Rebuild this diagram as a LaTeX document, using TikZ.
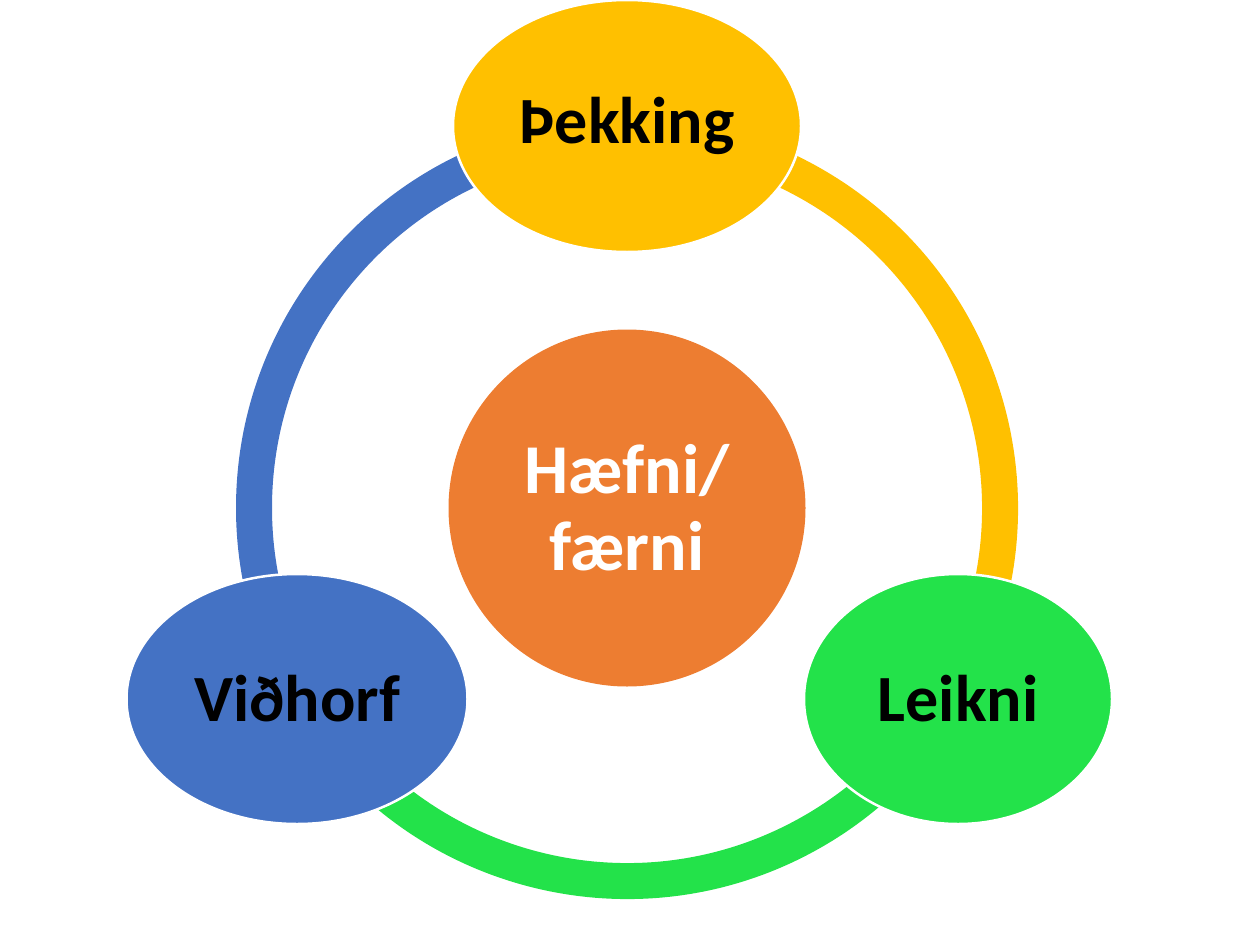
\documentclass[tikz,border=0pt]{standalone}
\usepackage{fontspec}
\setmainfont{Carlito}
\usetikzlibrary{shapes.geometric}
\definecolor{cyellow}{HTML}{FFC000}
\definecolor{corange}{HTML}{ED7D31}
\definecolor{cblue}{HTML}{4472C4}
\definecolor{cgreen}{HTML}{23E24A}
\tikzset{
  ringarc/.style={line width=36pt},
  bubble/.style={ellipse, draw=white, line width=2.5pt, inner sep=0pt, font=\bfseries\fontsize{66}{72}\selectfont, text=black},
}
\begin{document}
\begin{tikzpicture}[x=1pt,y=-1pt]
\useasboundingbox (0,0) rectangle (1239,950);
\coordinate (c) at (627,508);
% ring
\draw[ringarc, cblue] (c) ++(-90:373) arc[start angle=-90, end angle=-210, radius=373];
\draw[ringarc, cyellow] (c) ++(30:373) arc[start angle=30, end angle=-90, radius=373];
\draw[ringarc, cgreen] (c) ++(150:373) arc[start angle=150, end angle=30, radius=373];
% center
\node[circle, fill=corange, minimum size=357pt, inner sep=0pt, align=center, text=white,
  font=\bfseries\fontsize{70}{77}\selectfont] (haef) at (c) {Hæfni/\\færni};
% satellites
\node[bubble, fill=cyellow, minimum width=348pt, minimum height=252pt] (thek) at (627,126) {Þekking};
\node[bubble, fill=cblue, minimum width=341pt, minimum height=250pt] (vid) at (297,699) {Viðhorf};
\node[bubble, fill=cgreen, minimum width=308pt, minimum height=250pt] (leik) at (958,699) {Leikni};
\end{tikzpicture}
\end{document}
